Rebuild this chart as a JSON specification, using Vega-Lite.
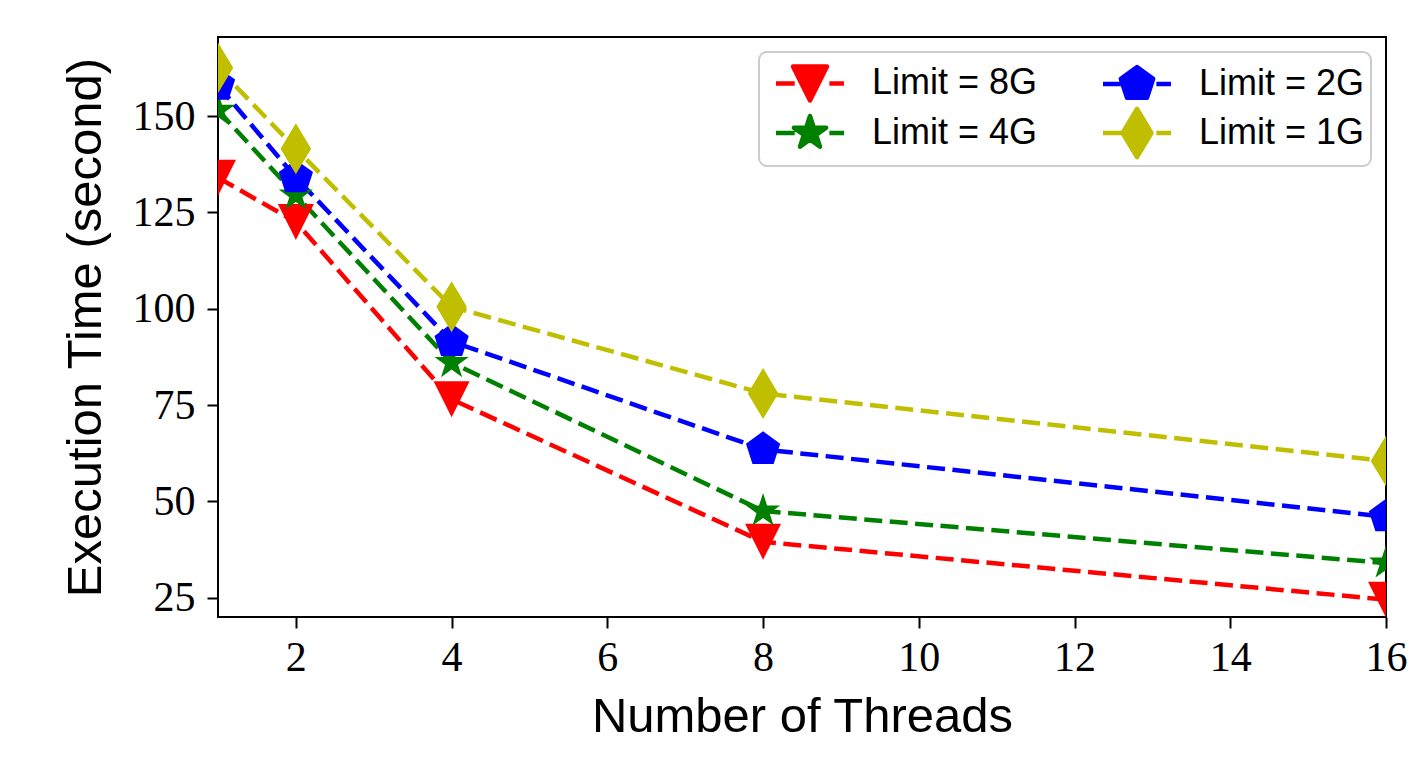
{
  "$schema": "https://vega.github.io/schema/vega-lite/v6.json",
  "width": 1168,
  "height": 580,
  "autosize": "none",
  "padding": {"left": 218, "top": 37, "right": 33, "bottom": 145},
  "background": "white",
  "config": {
    "view": {"stroke": "black", "strokeWidth": 2},
    "axis": {
      "domain": false,
      "grid": false,
      "ticks": true,
      "tickColor": "black",
      "tickWidth": 2,
      "tickSize": 11,
      "labelFont": "Liberation Serif",
      "labelFontSize": 42,
      "labelColor": "black",
      "labelOverlap": false,
      "labelFlush": false,
      "titleFont": "Liberation Sans",
      "titleFontSize": 49,
      "titleFontWeight": "normal",
      "titleColor": "black"
    },
    "legend": {
      "orient": "top-right",
      "offset": 15,
      "columns": 2,
      "padding": 6,
      "rowPadding": 3,
      "columnPadding": 54,
      "symbolOffset": 20,
      "labelOffset": 37,
      "labelLimit": 400,
      "labelFont": "Liberation Sans",
      "labelFontSize": 36,
      "labelColor": "black",
      "symbolSize": 2053,
      "symbolOpacity": 1,
      "strokeColor": "#cccccc",
      "strokeWidth": 2,
      "cornerRadius": 8,
      "fillColor": "white"
    }
  },
  "data": {
    "values": [
      {"limit": "Limit = 8G", "threads": 1, "time": 134},
      {"limit": "Limit = 8G", "threads": 2, "time": 122.5},
      {"limit": "Limit = 8G", "threads": 4, "time": 76.5},
      {"limit": "Limit = 8G", "threads": 8, "time": 39.5},
      {"limit": "Limit = 8G", "threads": 16, "time": 24.5},
      {"limit": "Limit = 4G", "threads": 1, "time": 151.5},
      {"limit": "Limit = 4G", "threads": 2, "time": 129.5},
      {"limit": "Limit = 4G", "threads": 4, "time": 86},
      {"limit": "Limit = 4G", "threads": 8, "time": 47.5},
      {"limit": "Limit = 4G", "threads": 16, "time": 34},
      {"limit": "Limit = 2G", "threads": 1, "time": 158},
      {"limit": "Limit = 2G", "threads": 2, "time": 134},
      {"limit": "Limit = 2G", "threads": 4, "time": 91.5},
      {"limit": "Limit = 2G", "threads": 8, "time": 63.5},
      {"limit": "Limit = 2G", "threads": 16, "time": 46},
      {"limit": "Limit = 1G", "threads": 1, "time": 162.5},
      {"limit": "Limit = 1G", "threads": 2, "time": 141.5},
      {"limit": "Limit = 1G", "threads": 4, "time": 100.5},
      {"limit": "Limit = 1G", "threads": 8, "time": 78},
      {"limit": "Limit = 1G", "threads": 16, "time": 60.5}
    ]
  },
  "encoding": {
    "x": {
      "field": "threads",
      "type": "quantitative",
      "scale": {"domain": [1, 16], "nice": false, "zero": false},
      "axis": {
        "title": "Number of Threads",
        "values": [2, 4, 6, 8, 10, 12, 14, 16],
        "labelPadding": 9,
        "titlePadding": 14
      }
    },
    "y": {
      "field": "time",
      "type": "quantitative",
      "scale": {"domain": [20, 170.5], "nice": false, "zero": false},
      "axis": {
        "title": "Execution Time (second)",
        "values": [25, 50, 75, 100, 125, 150],
        "labelPadding": 12,
        "titlePadding": 22
      }
    }
  },
  "layer": [
    {
      "mark": {"type": "line", "strokeWidth": 4.5, "strokeDash": [18, 7.5], "clip": true},
      "encoding": {
        "stroke": {
          "field": "limit",
          "type": "nominal",
          "scale": {
            "domain": ["Limit = 1G", "Limit = 2G", "Limit = 4G", "Limit = 8G"],
            "range": ["#bfbf00", "#0000ff", "#008000", "#ff0000"]
          },
          "legend": null
        }
      }
    },
    {
      "mark": {"type": "point", "filled": true, "opacity": 1, "strokeWidth": 0, "size": 2304, "clip": true},
      "encoding": {
        "color": {
          "field": "limit",
          "type": "nominal",
          "sort": null,
          "scale": {
            "domain": ["Limit = 8G", "Limit = 4G", "Limit = 2G", "Limit = 1G"],
            "range": ["#ff0000", "#008000", "#0000ff", "#bfbf00"]
          },
          "legend": {
            "title": null,
            "encode": {
              "symbols": {
                "update": {
                  "stroke": {"scale": "color", "field": "value"},
                  "strokeWidth": {"value": 4.5},
                  "strokeJoin": {"value": "round"}
                }
              }
            }
          }
        },
        "shape": {
          "field": "limit",
          "type": "nominal",
          "scale": {
            "domain": ["Limit = 8G", "Limit = 4G", "Limit = 2G", "Limit = 1G"],
            "range": [
              "M-1.5,0L-0.675,0M0.855,0L1.5,0M-0.75,-0.75L0.75,-0.75L0,0.75Z",
              "M-1.5,0L-0.675,0M0.855,0L1.5,0M0,-0.75L0.1684,-0.2318L0.7133,-0.2318L0.2725,0.0885L0.4408,0.6068L0,0.2865L-0.4408,0.6068L-0.2725,0.0885L-0.7133,-0.2318L-0.1684,-0.2318Z",
              "M-1.5,0L-0.675,0M0.855,0L1.5,0M0,-0.75L0.7133,-0.2318L0.4408,0.6068L-0.4408,0.6068L-0.7133,-0.2318Z",
              "M-1.5,0L-0.675,0M0.855,0L1.5,0M0,-1.0605L0.636,0L0,1.0605L-0.636,0Z"
            ]
          },
          "legend": {
            "title": null,
            "encode": {
              "symbols": {
                "update": {
                  "stroke": {"scale": "color", "field": "value"},
                  "strokeWidth": {"value": 4.5},
                  "strokeJoin": {"value": "round"}
                }
              }
            }
          }
        }
      }
    }
  ]
}
